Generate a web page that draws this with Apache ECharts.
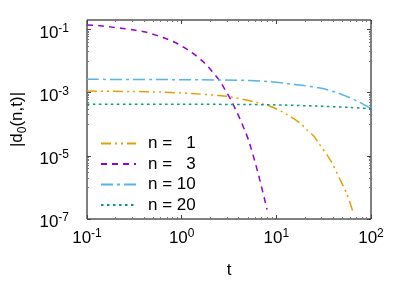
<!DOCTYPE html>
<html>
<head>
<meta charset="utf-8">
<script src="https://cdn.jsdelivr.net/npm/echarts@6/dist/echarts.min.js"></script>
<style>html,body{margin:0;padding:0;background:#fff}#c{width:407px;height:285px}</style>
</head>
<body>
<div id="c"></div>
<script>
// ---- data ----
const seriesNames = ['n =   1', 'n =   3', 'n = 10', 'n = 20'];
const tN1 = [0.1, 0.295, 0.612, 1.27, 2.43, 3.37, 6.2, 8.58, 11.9, 17.8, 21.0, 24.7, 27.8, 37.0, 47.2, 55.6, 64.3];
const dN1 = [1.12e-3, 1.09e-3, 1.04e-3, 9.4e-4, 8.15e-4, 7.3e-4, 4.9e-4, 3.7e-4, 2.36e-4, 1.09e-4, 6.7e-5, 4.3e-5, 2.6e-5, 7.5e-6, 1.75e-6, 6.2e-7, 1.74e-7];
const tN3 = [0.1, 0.139, 0.184, 0.240, 0.314, 0.415, 0.533, 0.692, 0.896, 1.143, 1.438, 1.758, 2.10, 2.49, 2.89, 3.32, 3.75, 4.20, 4.66, 5.14, 6.40, 7.98];
const dN3 = [0.139, 0.131, 0.119, 0.108, 0.0958, 0.0828, 0.0665, 0.0508, 0.0361, 0.0233, 0.0144, 8.5e-3, 4.69e-3, 2.5e-3, 1.21e-3, 5.87e-4, 2.73e-4, 1.32e-4, 6.2e-5, 2.86e-5, 2.9e-6, 1.97e-7];
const tN10 = [0.1, 0.5, 1.56, 5.27, 8.58, 15.6, 29.0, 43.5, 55.6, 71.0, 94.2, 100];
const dN10 = [2.65e-3, 2.6e-3, 2.56e-3, 2.43e-3, 2.21e-3, 1.82e-3, 1.40e-3, 1.01e-3, 7.6e-4, 5.5e-4, 3.5e-4, 3.2e-4];
const tN20 = [0.1, 1, 5.3, 11.8, 26.7, 60.3, 100];
const dN20 = [4.3e-4, 4.3e-4, 4.2e-4, 4.06e-4, 3.75e-4, 3.4e-4, 3.1e-4];
const xTickExps = [-1, 0, 1, 2];
const yTickExps = [-7, -5, -3, -1];

const FONT = 'Liberation Sans';
const colors = ['#e69f00', '#9400d3', '#56b4e9', '#009e73'];
const dashes = [[10, 4, 2, 4, 2, 4], [6, 5], [12, 4, 3, 4], [2.5, 3.5]];
const tSets = [tN1, tN3, tN10, tN20];
const dSets = [dN1, dN3, dN10, dN20];

const xMinor = [];
for (let e = -1; e < 2; e++) for (let k = 2; k <= 9; k++) xMinor.push(e + Math.log10(k));
const yMinor = [];
for (const e of [-6, -4, -2]) for (let k = 1; k <= 9; k++) yMinor.push(e + Math.log10(k));

const YMAX = 0.2;
const rich = {
  b: { fontSize: 17, fontFamily: FONT, color: '#000', lineHeight: 17, verticalAlign: 'bottom' },
  s: { fontSize: 12, fontFamily: FONT, color: '#000', lineHeight: 12, padding: [0, 0, 7, 0], verticalAlign: 'bottom' }
};
const fmt = v => '{b|10}{s|' + v + '}';

function tickAxis(pos, min, max, vals, len, color, extra) {
  return Object.assign({
    type: 'value', position: pos, min: min, max: max,
    axisLine: { show: false, onZero: false },
    splitLine: { show: false },
    axisTick: { show: true, inside: true, length: len, customValues: vals, lineStyle: { color: color, width: 1 } },
    axisLabel: { show: false }
  }, extra || {});
}

const chart = echarts.init(document.getElementById('c'), null, { renderer: 'canvas' });
chart.setOption({
  animation: false,
  backgroundColor: '#fff',
  grid: { left: 87, right: 36, top: 20, bottom: 66, show: true, borderColor: '#000', borderWidth: 1, backgroundColor: 'transparent' },
  legend: {
    orient: 'vertical', left: 100, top: 135, padding: 0,
    itemWidth: 35, itemHeight: 14, itemGap: 3.5,
    data: seriesNames,
    itemStyle: { opacity: 0 },
    textStyle: { fontFamily: FONT, fontSize: 17, color: '#000', lineHeight: 17, padding: [0, 0, 0, 7] }
  },
  xAxis: [
    { type: 'log', logBase: 10, min: 0.1, max: 100, show: false },
    tickAxis('bottom', -1, 2, xTickExps, 4, '#444', {
      axisLabel: { show: true, customValues: xTickExps, formatter: fmt, rich: rich, margin: 11 },
      name: 't', nameLocation: 'middle', nameGap: 43,
      nameTextStyle: { fontFamily: FONT, fontSize: 17, color: '#000' }
    }),
    tickAxis('bottom', -1, 2, xMinor, 2, '#777'),
    tickAxis('top', -1, 2, xTickExps, 4, '#444'),
    tickAxis('top', -1, 2, xMinor, 2, '#777')
  ],
  yAxis: [
    { type: 'log', logBase: 10, min: 1e-7, max: YMAX, show: false },
    tickAxis('left', -7, Math.log10(YMAX), yTickExps, 4, '#444', {
      axisLabel: { show: true, customValues: yTickExps, formatter: fmt, rich: rich, margin: 18, padding: [7, 0, 0, 0] },
      name: '|d{s|0}(n,t)|', nameLocation: 'middle', nameGap: 56, nameRotate: 90,
      nameTextStyle: {
        fontFamily: FONT, fontSize: 17, color: '#000',
        rich: {
          s: { fontSize: 12, fontFamily: FONT, color: '#000', lineHeight: 12, padding: [8, 0, 0, 0], verticalAlign: 'top' }
        }
      }
    }),
    tickAxis('left', -7, Math.log10(YMAX), yMinor, 2, '#777'),
    tickAxis('right', -7, Math.log10(YMAX), yTickExps, 4, '#444'),
    tickAxis('right', -7, Math.log10(YMAX), yMinor, 2, '#777')
  ],
  series: seriesNames.map((name, i) => ({
    name: name, type: 'line', xAxisIndex: 0, yAxisIndex: 0,
    data: tSets[i].map((t, j) => [t, dSets[i][j]]),
    symbol: 'none', showSymbol: false, smooth: 0.3,
    lineStyle: { color: colors[i], width: 1.5, type: dashes[i] },
    itemStyle: { color: colors[i] }
  }))
});
</script>
</body>
</html>
